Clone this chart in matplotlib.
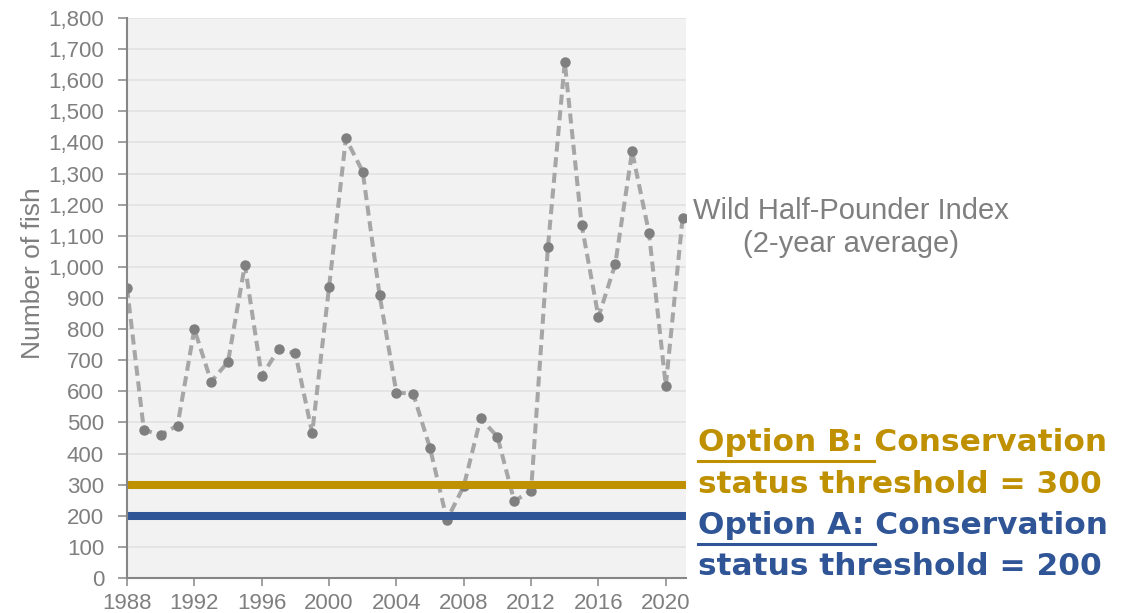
import matplotlib
matplotlib.use("Agg")
import matplotlib.pyplot as plt
from matplotlib.lines import Line2D
from matplotlib.ticker import FuncFormatter, MultipleLocator

plt.rcParams['font.family'] = ['Liberation Sans', 'DejaVu Sans']

years = list(range(1988, 2022))
index_2yr = [933, 476, 460, 490, 800, 631, 695, 1006, 649, 735, 722, 466,
             935, 1413, 1306, 910, 596, 592, 417, 187, 295, 513, 454, 247,
             281, 1064, 1658, 1136, 839, 1009, 1371, 1110, 618, 1158]
threshold_b = 300
threshold_a = 200
x_ticks = list(range(1988, 2021, 4))

gold = '#BF9000'
blue = '#2F5597'
grey_txt = '#7F7F7F'

W, H = 1127, 613
fig = plt.figure(figsize=(W / 100, H / 100), dpi=100)
ax = fig.add_axes([127 / W, 1 - 578 / H, (686 - 127) / W, (578 - 18) / H])
ax.set_facecolor('#F2F2F2')

ax.plot(years, index_2yr, color='#A6A6A6', lw=2.9, ls=(0, (2.5, 1.4)),
        marker='o', ms=6.5, mfc='#7F7F7F', mec='#7F7F7F', zorder=3)
ax.axhline(threshold_b, color=gold, lw=5.8, zorder=4)
ax.axhline(threshold_a, color=blue, lw=5.8, zorder=4)

ax.set_xlim(1988, 2021.2)
ax.set_ylim(0, 1800)
ax.set_xticks(x_ticks)
ax.yaxis.set_major_locator(MultipleLocator(100))
ax.yaxis.set_major_formatter(FuncFormatter(lambda v, p: f'{int(v):,}'))
ax.grid(axis='y', color='#E0E0E0', lw=1.1, zorder=0)
ax.set_axisbelow(True)

for s in ['top', 'right']:
    ax.spines[s].set_visible(False)
for s in ['left', 'bottom']:
    ax.spines[s].set_color('#868686')
    ax.spines[s].set_linewidth(1.5)
    ax.spines[s].set_zorder(5)
ax.tick_params(axis='y', length=6.5, width=1.1, color='#868686', pad=10,
               labelsize=16, labelcolor=grey_txt)
ax.tick_params(axis='x', length=6, width=1.1, color='#868686', pad=5,
               labelsize=16, labelcolor=grey_txt)

fig.text(33 / W, 1 - 273 / H, 'Number of fish', rotation=90, ha='center',
         va='center', fontsize=19, color=grey_txt)

fig.text(851 / W, 1 - 219 / H, 'Wild Half-Pounder Index', ha='center',
         va='baseline', fontsize=21, color=grey_txt)
fig.text(851 / W, 1 - 252 / H, '(2-year average)', ha='center',
         va='baseline', fontsize=21, color=grey_txt)

# threshold labels, first words underlined
opt = dict(fontsize=22.5, fontweight='bold', family='DejaVu Sans', va='baseline', ha='left')
lines = [
    ('Option B: ', 'Conservation', gold, 451),
    ('status threshold = 300', None, gold, 493),
    ('Option A: ', 'Conservation', blue, 534),
    ('status threshold = 200', None, blue, 575),
]
renderer = fig.canvas.get_renderer()
x0 = 698
for first, rest, col, base in lines:
    full = first + (rest or '')
    t = fig.text(x0 / W, 1 - base / H, full, color=col, **opt)
    if rest:
        tmp = fig.text(0, 0, rest, **opt)
        w_full = t.get_window_extent(renderer).width
        w_rest = tmp.get_window_extent(renderer).width
        tmp.remove()
        uw = w_full - w_rest
        uy = 1 - (base + 9.5) / H
        fig.add_artist(Line2D([x0 / W, (x0 + uw) / W], [uy, uy],
                              transform=fig.transFigure, color=col, lw=2.2))

fig.savefig('out.png', dpi=100)
